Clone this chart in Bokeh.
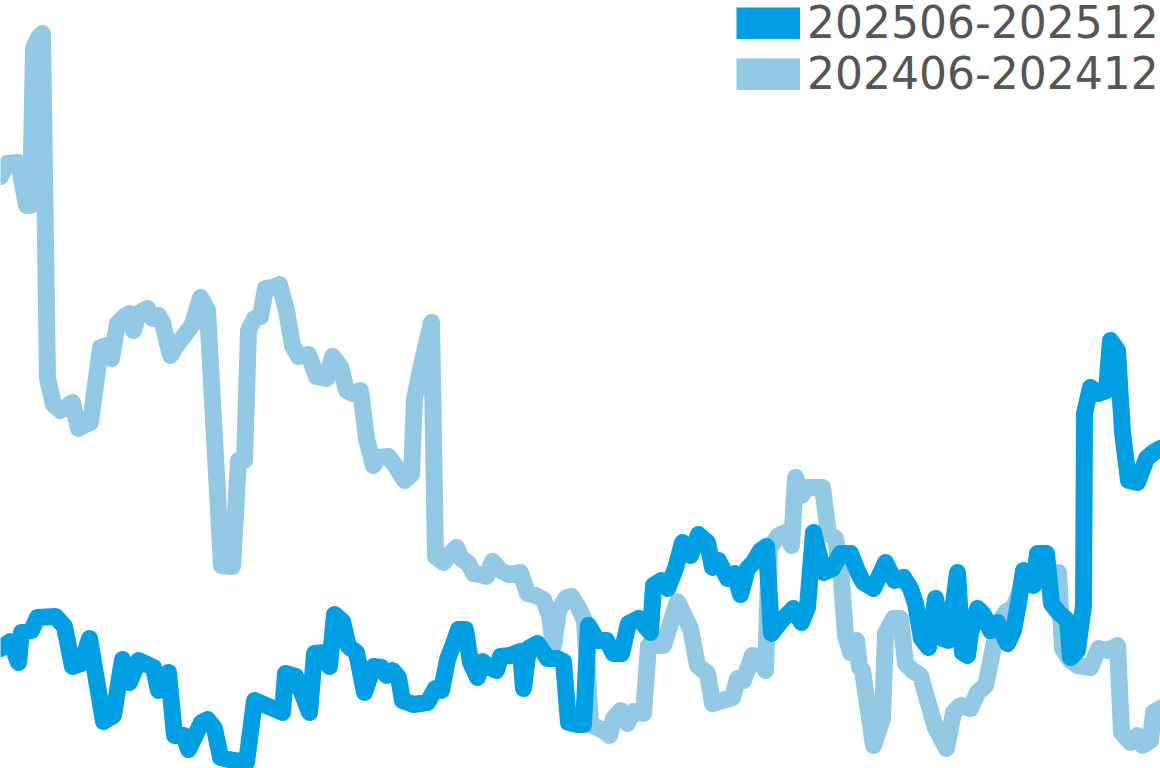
from bokeh.plotting import figure
from bokeh.models import Range1d, Legend, LegendItem
from bokeh.embed import file_html
from bokeh.resources import INLINE

# sample index along the period (0..1160) and index values
t_2024 = [0, 7, 18, 26, 30, 33, 38, 42, 47, 53, 60, 65, 72, 78, 83, 90, 100, 106, 111, 117,
          125, 129, 133, 138, 147, 152, 158, 162, 170, 176, 183, 192, 200, 207, 221, 232, 238, 244, 248, 254,
          260, 265, 273, 279, 286, 292, 298, 308, 316, 326, 332, 340, 346, 352, 360, 366, 373, 378, 388, 396,
          404, 411, 414, 422, 431, 435, 443, 452, 456, 461, 468, 473, 480, 486, 492, 500, 508, 520, 527, 535,
          543, 549, 553, 558, 566, 571, 578, 584, 590, 603, 609, 613, 620, 627, 633, 643, 648, 663, 677, 690,
          697, 707, 712, 722, 732, 737, 743, 752, 757, 765, 769, 778, 785, 791, 795, 801, 807, 822, 828, 835,
          841, 845, 850, 856, 859, 862, 873, 882, 885, 893, 900, 905, 912, 920, 927, 935, 946, 953, 960, 970,
          977, 985, 990, 997, 1005, 1013, 1020, 1026, 1033, 1047, 1058, 1062, 1070, 1077, 1090, 1098, 1107, 1117, 1121, 1130,
          1137, 1142, 1150, 1153, 1160]
v_2024 = [592, 605, 606, 563, 563, 720, 731, 735, 390, 364, 358, 361, 366, 340, 343, 346, 421, 423, 410, 445,
          453, 455, 438, 455, 460, 450, 453, 446, 413, 423, 432, 444, 471, 458, 203, 202, 308, 308, 438, 450,
          452, 480, 481, 484, 458, 423, 412, 414, 392, 390, 412, 402, 378, 375, 378, 330, 303, 311, 312, 301,
          288, 294, 370, 408, 446, 212, 206, 217, 221, 210, 205, 195, 194, 192, 207, 198, 194, 196, 175, 173,
          169, 153, 123, 158, 171, 172, 161, 148, 44, 38, 33, 50, 58, 45, 57, 55, 123, 123, 167, 140,
          103, 95, 65, 68, 71, 90, 88, 113, 112, 98, 220, 233, 236, 223, 291, 273, 281, 281, 235, 230,
          188, 133, 116, 128, 101, 98, 23, 50, 135, 150, 150, 105, 98, 93, 68, 41, 20, 56, 63, 60,
          76, 83, 106, 143, 156, 161, 178, 196, 188, 194, 196, 120, 108, 103, 101, 120, 118, 123, 36, 26,
          33, 23, 28, 56, 60]

t_2025 = [0, 10, 18, 21, 31, 37, 55, 64, 72, 81, 89, 103, 113, 122, 129, 138, 153, 158, 168, 174,
          183, 188, 201, 207, 214, 220, 233, 246, 254, 268, 282, 285, 295, 309, 314, 325, 329, 334, 342, 348,
          356, 364, 373, 381, 386, 392, 398, 402, 413, 427, 435, 441, 447, 452, 458, 465, 470, 477, 482, 489,
          496, 500, 510, 520, 523, 528, 537, 547, 557, 563, 568, 577, 583, 588, 597, 606, 613, 621, 628, 638,
          650, 653, 661, 667, 675, 682, 690, 698, 707, 712, 718, 727, 734, 740, 747, 753, 760, 766, 771, 781,
          793, 801, 807, 813, 823, 832, 840, 850, 858, 863, 873, 885, 894, 903, 910, 915, 921, 928, 935, 942,
          948, 957, 962, 967, 970, 977, 983, 990, 997, 1007, 1013, 1018, 1023, 1033, 1037, 1046, 1051, 1058, 1067, 1070,
          1077, 1083, 1084, 1090, 1098, 1106, 1110, 1117, 1122, 1128, 1137, 1146, 1153, 1160]
v_2025 = [120, 127, 106, 136, 138, 151, 152, 142, 102, 105, 130, 47, 53, 109, 86, 108, 101, 78, 96, 33,
          33, 19, 46, 49, 40, 11, 8, 6, 68, 62, 56, 95, 92, 56, 115, 116, 102, 154, 147, 122,
          116, 76, 102, 101, 93, 98, 91, 68, 64, 66, 80, 78, 109, 122, 139, 139, 106, 91, 107, 101,
          98, 112, 113, 117, 80, 120, 125, 110, 110, 107, 46, 44, 44, 143, 128, 128, 115, 115, 145, 150,
          136, 183, 188, 180, 200, 226, 213, 234, 226, 201, 208, 190, 195, 174, 200, 206, 218, 222, 135, 148,
          160, 146, 161, 236, 196, 200, 215, 215, 195, 186, 180, 206, 188, 191, 180, 165, 130, 121, 170, 130,
          128, 196, 116, 113, 135, 160, 154, 138, 146, 125, 138, 165, 198, 183, 215, 215, 165, 156, 148, 111,
          118, 163, 355, 381, 375, 378, 428, 418, 336, 288, 286, 310, 316, 320]

labels = ["202506-202512", "202406-202412"]
DARK = "#009FE3"
LIGHT = "#93C9E4"

p = figure(width=1160, height=768, output_backend="svg", toolbar_location=None,
           x_range=Range1d(0, 1160), y_range=Range1d(0, 768),
           x_axis_type=None, y_axis_type=None, min_border=0,
           outline_line_color=None, background_fill_color="white",
           border_fill_color="white")
p.styles = {"position": "absolute", "left": "0px", "top": "0px"}

p.line(t_2024, v_2024, line_color=LIGHT, line_width=17, line_join="round", line_cap="round")
p.line(t_2025, v_2025, line_color=DARK, line_width=17, line_join="round", line_cap="round")

# legend swatches (single off-range point, never visible in the plot area)
sw_dark = p.line([-100], [-100], line_color=DARK, line_width=32, line_cap="butt")
sw_light = p.line([-100], [-100], line_color=LIGHT, line_width=32, line_cap="butt")

legend = Legend(items=[LegendItem(label=labels[0], renderers=[sw_dark]),
                       LegendItem(label=labels[1], renderers=[sw_light])],
                location=(736, 669), margin=0, padding=0, spacing=-10,
                glyph_width=64, glyph_height=32, label_standoff=7, label_height=32,
                label_text_font="DejaVu Sans", label_text_font_size="44px",
                label_text_color="#555555", border_line_color=None,
                background_fill_alpha=0)
p.add_layout(legend)

open("out.html", "w").write(file_html(p, INLINE))
